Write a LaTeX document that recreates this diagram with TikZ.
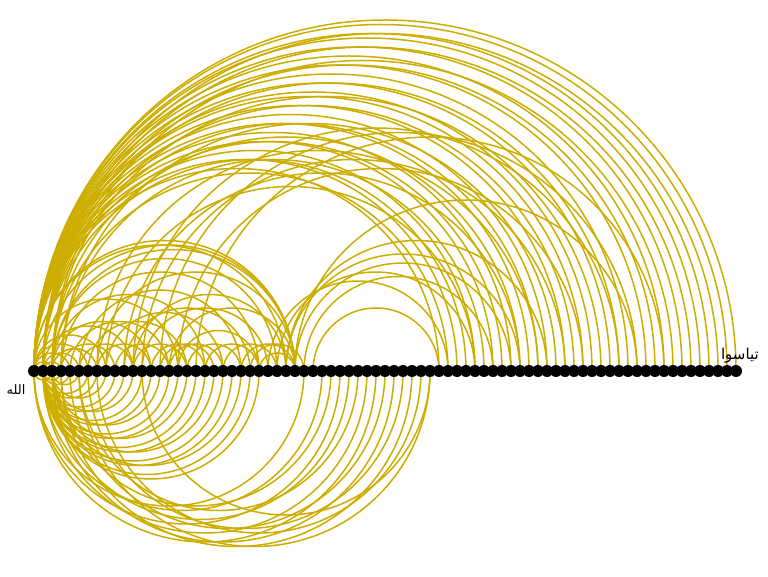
\documentclass[tikz,border=0pt]{standalone}
\usepackage{fontspec}
\newfontfamily\arabicfont[Script=Arabic]{DejaVu Sans}
\TeXXeTstate=1
\definecolor{arcgold}{RGB}{205,173,0}
\pgfdeclarelayer{bg}
\pgfsetlayers{bg,main}
\tikzset{
  wordnode/.style={circle,fill=black,inner sep=0pt,minimum size=12pt},
  arcline/.style={draw=arcgold,line width=1.5pt},
  wordlabel/.style={font=\arabicfont\fontsize{13}{15}\selectfont,text=black,inner sep=0pt}
}
\begin{document}
\begin{tikzpicture}[x=1pt,y=1pt]
\useasboundingbox (0,0) rectangle (768,576);
\foreach \i in {1,...,79}{
  \node[wordnode] (n\i) at ({34+9*(\i-1)},205) {};
}
\begin{pgfonlayer}{bg}
\fill[white] (0,0) rectangle (768,576);
% arcs above the line
\foreach \a/\b in {
  1/79,1/78,2/77,1/76,1/75,2/74,1/73,3/72,1/71,2/70,1/69,1/67,2/66,1/65,3/64,1/63,1/62,2/61,1/60,4/59,1/58,2/57,1/56,3/55,1/54,2/53,1/52,4/51,1/50,2/49,1/48,3/47,1/46,
  9/50,11/55,13/60,15/68,17/62,8/57,12/66,19/71,
  32/46,30/68,29/55,30/54,28/50,31/52,29/58,27/47,
  1/30,1/29,2/30,3/30,3/28,8/30,12/29,16/30,
  1/3,1/5,2/4,1/7,2/6,3/8,1/9,4/10,2/12,6/12,3/14,8/14,5/16,10/16,1/17,7/18,12/18,3/20,14/20,9/22,16/22,6/24,18/24,11/25,4/26,20/26,13/27,22/28,24/30,26/30,25/31,17/26,15/21}{
  \pgfmathsetmacro\r{4.5*(\b-\a)}
  \draw[arcline] (n\a.center) arc[start angle=180,end angle=0,radius=\r pt];
}
% arcs below the line
\foreach \a/\b in {
  2/4,2/5,3/6,2/7,2/8,3/9,2/10,2/11,3/12,2/13,2/14,3/15,2/16,2/17,3/18,2/19,2/20,3/21,2/22,2/23,3/24,2/25,2/26,
  6/45,13/45,8/44,4/43,7/42,3/41,5/40,1/39,2/38,6/37,3/36,1/35,4/34,2/33,1/31,
  1/3,15/16}{
  \pgfmathsetmacro\r{4.5*(\b-\a)}
  \draw[arcline] (n\a.center) arc[start angle=180,end angle=360,radius=\r pt];
}
\end{pgfonlayer}
\node[wordlabel,anchor=north] (lab1) at (16,192) {\beginR الله\endR};
\node[wordlabel,anchor=south east,font=\arabicfont\fontsize{15}{17}\selectfont] (lab79) at (759,213) {\beginR تياسوا\endR};
\end{tikzpicture}
\end{document}
